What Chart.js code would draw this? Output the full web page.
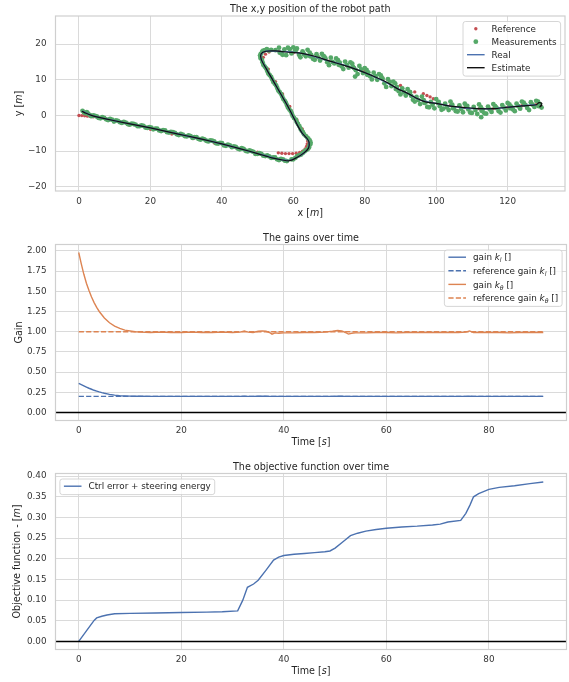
<!DOCTYPE html>
<html>
<head>
<meta charset="utf-8">
<script src="https://cdn.jsdelivr.net/npm/chart.js@4.4.1/dist/chart.umd.min.js"></script>
<style>
  html, body { margin: 0; padding: 0; background: #fff; }
  body { width: 569px; height: 682px; position: relative; overflow: hidden; }
  canvas { position: absolute; left: 0; }
</style>
</head>
<body>
<canvas id="pathChart" width="569" height="225" style="top:0px"></canvas>
<canvas id="gainChart" width="569" height="228" style="top:225px"></canvas>
<canvas id="objChart" width="569" height="229" style="top:453px"></canvas>
<script>
// ---- robot path (x, y in m) ----
var refX = [0, 0.8, 1.6, 2.4, 3.2, 4.0, 8, 14, 20, 26, 32, 38, 44, 50, 55.8, 56.8, 57.8, 58.8, 59.8, 60.8,
            61.8, 62.6, 63.3, 63.7, 63.9, 64.0, 63.5, 62.5, 61, 59, 57, 55, 53, 51.6, 52.2, 53.2, 56, 60, 65, 70,
            75, 80, 85, 90, 94, 96.4, 97.4, 98.3, 99.2, 100.5, 104, 108, 112, 116, 120, 124, 128];
var refY = [0, -0.05, -0.1, -0.2, -0.3, -0.4, -1.3, -2.6, -3.9, -5.2, -6.5, -7.8, -9.1, -10.3, -10.5, -10.6, -10.7, -10.7, -10.7, -10.6,
            -10.4, -10.0, -9.4, -8.7, -8.0, -7.2, -5.6, -3.8, -1.2, 2.5, 6, 9.5, 13, 16.3, 17.2, 17.8, 18, 17.6, 16.6, 15.2,
            13.9, 12.5, 10.5, 8.4, 6.6, 6.1, 5.6, 5.2, 4.7, 3.8, 2.8, 2.2, 1.9, 1.9, 2.3, 2.7, 3.0];

// measurements, lower straight leg
var measLowX = [1, 1.4, 1.8, 2.2, 2.6, 3.05, 3.5, 4.0, 4.5, 5.0, 5.5, 6.0, 6.5, 7.05, 7.6, 8.15, 8.7, 9.25, 9.8, 10.35,
                10.9, 11.45, 12, 12.55, 13.1, 13.65, 14.2, 14.75, 15.3, 15.85, 16.4, 16.95, 17.5, 18.05, 18.6, 19.15, 19.7, 20.25, 20.8, 21.35,
                21.9, 22.45, 23, 23.55, 24.1, 24.65, 25.2, 25.75, 26.3, 26.85, 27.4, 27.95, 28.5, 29.05, 29.6, 30.15, 30.7, 31.25, 31.8, 32.35,
                32.9, 33.45, 34, 34.55, 35.1, 35.65, 36.2, 36.75, 37.3, 37.85, 38.4, 38.95, 39.5, 40.05, 40.6, 41.15, 41.7, 42.25, 42.8, 43.35,
                43.9, 44.45, 45, 45.55, 46.1, 46.65, 47.2, 47.75, 48.3, 48.85, 49.4, 49.95, 50.5, 51.05, 51.6, 52.15, 52.7, 53.25, 53.8, 54.35,
                54.9, 55.45, 56, 56.55, 57.1, 57.65, 58.2];
var measLowY = [1.3, 0.8, 0.6, 0.9, 0.5, 0.1, -0.2, 0.0, -0.1, -0.3, -0.7, -0.8, -0.5, -0.7, -1.1, -1.3, -1.0, -1.2, -1.7, -1.4,
                -1.5, -1.9, -2.1, -1.8, -2.0, -2.4, -2.6, -2.3, -2.4, -2.6, -3.0, -3.0, -2.8, -2.9, -3.4, -3.5, -3.3, -3.4, -3.9, -3.7,
                -3.7, -4.2, -4.4, -4.1, -4.2, -4.7, -4.8, -4.6, -4.7, -4.9, -5.3, -5.5, -5.2, -5.4, -5.8, -5.9, -5.6, -5.8, -6.3, -6.1,
                -6.1, -6.6, -6.8, -6.5, -6.7, -7.1, -7.3, -7.0, -7.1, -7.3, -7.8, -7.9, -7.7, -7.8, -8.4, -8.5, -8.2, -8.4, -8.9, -8.7,
                -8.8, -9.3, -9.5, -9.2, -9.4, -9.9, -10.1, -9.8, -10.0, -10.2, -10.8, -10.8, -10.6, -10.8, -11.3, -11.4, -11.2, -11.5, -11.9, -11.8,
                -11.8, -12.3, -12.5, -12.2, -12.3, -12.7, -12.8];

// measurements, corner and climbing leg
var measUpX = [59.5, 60.0, 60.6, 61.1, 61.6, 62.1, 62.6, 63.1, 63.5, 64.0, 64.4, 64.5, 64.8, 64.8, 64.6, 64.2, 63.9, 63.5, 63.0, 62.7,
               62.3, 62.0, 61.7, 61.3, 61.0, 60.7, 60.2, 59.8, 59.6, 59.3, 58.9, 58.5, 58.2, 57.9, 57.6, 57.2, 56.9, 56.6, 56.2, 55.8,
               55.5, 55.2, 54.8, 54.4, 54.1, 53.8, 53.4, 53.0, 52.7, 52.4, 52.0, 51.6, 51.4, 51.2, 50.8, 50.7, 50.9, 51.3, 51.6, 52.1,
               52.6, 53.2, 53.8];
var measUpY = [-12.3, -12.3, -11.9, -11.4, -11.2, -11.0, -10.6, -10.1, -9.8, -9.5, -9.0, -8.4, -8.0, -7.5, -7.0, -6.5, -6.2, -5.8, -5.3, -4.7,
               -4.2, -3.7, -3.0, -2.4, -1.9, -1.2, -0.7, -0.1, 0.5, 1.2, 1.7, 2.2, 2.9, 3.6, 4.1, 4.6, 5.3, 6.0, 6.5, 7.0,
               7.7, 8.4, 8.9, 9.4, 10.1, 10.8, 11.3, 11.8, 12.5, 13.2, 13.7, 14.2, 14.9, 15.6, 16.1, 16.8, 17.3, 17.9, 18.2, 18.3,
               18.6, 18.2, 18.4];

// measurements, upper noisy leg
var measTopX = [55, 56.2, 57.5, 58.5, 59.5, 60.5, 61.6, 62.6, 63.5, 64.6, 65.5, 66.5, 67.5, 68.5, 69.5, 70.5, 71.5, 72.5, 73.5, 74.5,
                75.5, 76.5, 77.5, 78.5, 79.5, 80.5, 81.5, 82.5, 83.5, 84.5, 85.5, 86.5, 87.5, 88.5, 89.5, 90.5, 91.5, 92.5, 93.5, 94.5,
                95.5, 96.5, 97.5, 98.5, 99.5, 100.5, 101.5, 102.5, 103.5, 104.5, 105.5, 106.5, 107.5, 108.5, 109.5, 110.5, 111.5, 112.5, 113.5, 114.5,
                115.5, 116.5, 117.5, 118.5, 119.5, 120.5, 121.5, 122.5, 123.5, 124.5, 125.5, 126.5, 127.5, 128.5, 129.5,
                57, 59, 61, 63, 65, 67, 69, 71, 73, 75, 77, 77.3, 79, 81, 83, 85, 87, 89, 91, 93,
                95, 97, 99, 101, 103, 105, 107, 109, 111, 112.6, 113, 115, 117, 119, 121, 123, 125, 127, 129,
                56, 58, 60, 62, 64, 66, 68, 70, 72, 74, 76, 78, 80, 82, 84, 86, 88, 90, 92, 94,
                96, 98, 100, 102, 104, 106, 108, 110, 112, 114, 116, 118, 120, 122, 124, 126, 128,
                56.7, 60.7, 64.7, 68.7, 72.7, 76.7, 80.7, 84.7, 88.7, 92.7, 96.7, 100.7, 104.7, 108.7, 112.7, 116.7, 120.7, 124.7, 128.7];
var measTopY = [18.3, 17.6, 18.5, 19.0, 17.4, 18.2, 17.0, 18.0, 16.6, 17.6, 15.9, 17.2, 15.4, 16.6, 14.9, 16.2, 14.6, 15.5, 13.8, 15.1,
                13.4, 14.5, 12.7, 13.9, 11.9, 12.8, 11.0, 12.0, 10.0, 11.2, 9.0, 10.2, 8.2, 9.0, 6.8, 7.6, 5.6, 6.6, 4.4, 5.2,
                3.2, 4.3, 2.4, 3.8, 2.0, 3.5, 1.6, 3.3, 1.5, 3.0, 1.2, 2.8, 0.9, 2.6, 0.8, 2.4, 0.4, 2.3, 0.6, 2.5,
                1.0, 2.6, 1.2, 2.9, 1.4, 3.1, 1.7, 3.3, 1.9, 3.6, 2.1, 3.7, 2.4, 3.9, 2.2,
                17.0, 18.6, 18.8, 17.2, 17.0, 16.3, 16.0, 15.0, 14.8, 14.2, 13.3, 10.9, 12.9, 12.1, 11.0, 10.3, 9.4, 8.0, 6.5, 5.5,
                4.3, 3.6, 3.0, 2.6, 2.3, 2.1, 1.8, 1.7, 1.5, -0.5, 1.6, 1.7, 2.0, 2.2, 2.5, 2.6, 2.9, 3.0, 3.2,
                19.0, 16.9, 19.1, 16.3, 18.4, 15.6, 17.3, 14.1, 16.0, 13.0, 14.9, 11.6, 13.3, 10.1, 11.6, 8.0, 9.5, 5.9, 7.4, 3.9,
                5.3, 2.3, 4.6, 1.9, 3.9, 1.1, 3.3, 0.7, 3.1, 0.5, 3.2, 0.8, 3.5, 1.2, 3.9, 1.5, 4.1,
                17.4, 18.3, 16.6, 16.4, 14.2, 13.6, 11.4, 10.6, 7.4, 6.5, 3.5, 3.8, 2.0, 2.7, 1.3, 2.3, 2.0, 3.1, 2.6];

var realX = [0.8, 2.0, 3.5, 5, 10, 15, 20, 25, 30, 35, 40, 45, 50, 54, 57, 59, 61, 63, 64.3, 64.4,
             63.8, 62.5, 61.3, 60.3, 58.5, 56.5, 54.5, 52.5, 51.0, 51.0, 52.3, 55, 58, 62, 66, 70, 74, 78, 82, 86,
             89, 92, 95, 97, 100, 104, 108, 112, 116, 120, 124, 128];
var realY = [1.2, 0.7, 0.0, -0.4, -1.5, -2.5, -3.5, -4.6, -5.7, -6.8, -8.0, -9.3, -10.7, -11.8, -12.5, -12.6, -11.8, -10.5, -9.0, -7.5,
             -6.5, -5.0, -3.0, -1.0, 2.5, 6.0, 9.5, 13.0, 15.8, 17.2, 18.0, 18.0, 17.9, 17.5, 16.5, 15.3, 14.2, 12.8, 11.2, 9.3,
             7.6, 6.2, 4.6, 3.9, 3.4, 2.6, 2.1, 1.9, 1.9, 2.3, 2.7, 3.0];

var estX = [0.8, 2.0, 3.5, 5, 10, 15, 20, 25, 30, 35, 40, 45, 50, 54, 57, 59, 61, 63, 64.3, 64.4,
            63.8, 62.5, 61.3, 60.3, 58.5, 56.5, 54.5, 52.5, 51.0, 51.0, 52.3, 55, 58, 62, 66, 70, 74, 78, 82, 86,
            89, 92, 95, 97, 100, 104, 108, 112, 116, 120, 124, 128, 128.8, 129.6, 129.0, 129.7];
var estY = [1.2, 0.6, 0.0, -0.4, -1.5, -2.5, -3.5, -4.6, -5.7, -6.8, -8.0, -9.3, -10.7, -11.9, -12.5, -12.7, -11.8, -10.5, -9.1, -7.5,
            -6.4, -5.0, -3.0, -1.0, 2.5, 6.0, 9.5, 13.0, 15.8, 17.3, 18.0, 18.1, 17.8, 17.5, 16.6, 15.3, 14.1, 12.8, 11.2, 9.4,
            7.6, 6.2, 4.6, 3.8, 3.4, 2.6, 2.2, 1.9, 1.9, 2.3, 2.7, 3.0, 3.6, 3.3, 2.4, 2.9];

var pathXTicks = [0, 20, 40, 60, 80, 100, 120];
var pathYTicks = [-20, -10, 0, 10, 20];

// ---- gains over time ----
var gainTime = [0, 0.5, 1, 1.5, 2, 2.5, 3, 3.5, 4, 4.5, 5, 6, 7, 8, 9, 10, 11, 12, 14, 16,
                18, 20, 22, 24, 26, 28, 30, 31.5, 32.3, 33, 34, 35, 35.8, 36.5, 37.2, 37.7, 38.3, 39, 40, 42,
                44, 46, 48, 49.5, 50.5, 51.3, 52, 52.6, 53.2, 54, 56, 58, 60, 62, 64, 66, 68, 70, 72, 74,
                75.5, 76.2, 77, 78, 80, 82, 84, 86, 88, 90.6];
var gainKl = [0.36, 0.345, 0.33, 0.315, 0.30, 0.288, 0.275, 0.265, 0.255, 0.246, 0.238, 0.225, 0.215, 0.208, 0.205, 0.203, 0.202, 0.201, 0.2, 0.2,
              0.2, 0.2, 0.2, 0.2, 0.2, 0.2, 0.2, 0.2, 0.201, 0.2, 0.2, 0.201, 0.202, 0.201, 0.2, 0.199, 0.2, 0.2, 0.2, 0.2,
              0.2, 0.2, 0.2, 0.2, 0.201, 0.202, 0.2, 0.199, 0.2, 0.2, 0.2, 0.2, 0.2, 0.2, 0.2, 0.2, 0.2, 0.2, 0.2, 0.2,
              0.2, 0.201, 0.2, 0.2, 0.2, 0.2, 0.2, 0.2, 0.2, 0.2];
var gainKtheta = [1.98, 1.84, 1.71, 1.60, 1.51, 1.43, 1.36, 1.30, 1.25, 1.21, 1.17, 1.11, 1.07, 1.04, 1.02, 1.01, 1.0, 0.995, 0.99, 0.995,
                  0.99, 0.99, 0.995, 0.99, 0.99, 0.995, 0.99, 0.995, 1.01, 0.995, 0.99, 1.005, 1.01, 1.005, 0.99, 0.97, 0.985, 0.98, 0.985, 0.985,
                  0.99, 0.99, 0.995, 1.005, 1.015, 1.01, 0.99, 0.97, 0.98, 0.985, 0.985, 0.99, 0.99, 0.985, 0.99, 0.99, 0.99, 0.99, 0.99, 0.99,
                  0.995, 1.01, 0.99, 0.99, 0.99, 0.99, 0.985, 0.99, 0.99, 0.99];
var refGainTime = [0, 90.6];
var refGainKl = [0.2, 0.2];
var refGainKtheta = [1.0, 1.0];
var timeTicks = [0, 20, 40, 60, 80];
var gainYTicks = [0, 0.25, 0.5, 0.75, 1.0, 1.25, 1.5, 1.75, 2.0];

// ---- objective function ----
var objTime = [0, 1, 2, 3, 3.5, 4.5, 5.5, 7, 10, 15, 20, 25, 28, 31, 32, 32.9, 34.1, 35, 36.5, 38,
               39, 40, 42, 44, 46, 48, 49, 50, 51.6, 53, 54.4, 56, 58, 60, 63, 66, 69, 70.5, 72, 74.5,
               75.5, 76.3, 77, 78, 80, 82, 85, 88, 90.6];
var objValue = [0, 0.017, 0.034, 0.051, 0.057, 0.061, 0.064, 0.067, 0.068, 0.069, 0.070, 0.071, 0.072, 0.074, 0.100, 0.131, 0.139, 0.148, 0.172, 0.197,
                0.204, 0.208, 0.211, 0.213, 0.215, 0.217, 0.219, 0.226, 0.242, 0.256, 0.262, 0.267, 0.271, 0.274, 0.277, 0.279, 0.282, 0.284, 0.289, 0.293,
                0.310, 0.330, 0.350, 0.358, 0.368, 0.373, 0.377, 0.382, 0.386];
var objYTicks = [0, 0.05, 0.1, 0.15, 0.2, 0.25, 0.3, 0.35, 0.4];

var BLUE = '#4c72b0', ORANGE = '#dd8452', GREEN = '#55a868', RED = '#c44e52';
var GRID = '#dadada', SPINE = '#cfcfcf', TEXT = '#262626', TICK = '#363636';
var FONT = '"DejaVu Sans", "Liberation Sans", sans-serif';
Chart.defaults.font.family = FONT;

function xy(xs, ys) {
    return xs.map(function (x, i) { return { x: x, y: ys[i] }; });
}

// text with italic / subscript pieces, like matplotlib mathtext
function partFont(kind, size) {
    return (kind ? 'italic ' : '') + (kind === 'sub' ? size * 0.7 : size) + 'px ' + FONT;
}
function richWidth(ctx, parts, size) {
    var w = 0;
    parts.forEach(function (p) { ctx.font = partFont(p[1], size); w += ctx.measureText(p[0]).width; });
    return w;
}
function richText(ctx, parts, x, y, size, align) {
    var cx = align === 'center' ? x - richWidth(ctx, parts, size) / 2 : x;
    ctx.textAlign = 'left';
    ctx.textBaseline = 'alphabetic';
    parts.forEach(function (p) {
        ctx.font = partFont(p[1], size);
        ctx.fillText(p[0], cx, y + size * 0.36 + (p[1] === 'sub' ? size * 0.22 : 0));
        cx += ctx.measureText(p[0]).width;
    });
}
function roundRect(ctx, x, y, w, h, r) {
    ctx.beginPath();
    ctx.moveTo(x + r, y);
    ctx.arcTo(x + w, y, x + w, y + h, r);
    ctx.arcTo(x + w, y + h, x, y + h, r);
    ctx.arcTo(x, y + h, x, y, r);
    ctx.arcTo(x, y, x + w, y, r);
    ctx.closePath();
}

function drawLegend(ctx, area, lg) {
    var fs = 8.8, pad = 3.5, hl = 17.6, hp = 7;
    var tw = 0;
    lg.items.forEach(function (it) { tw = Math.max(tw, richWidth(ctx, it.label, fs)); });
    var w = pad + hl + hp + tw + pad + 1;
    var h = 7.2 + (lg.items.length - 1) * lg.pitch + 8.4;
    var left = lg.loc === 'left' ? area.left + 4.4 : area.right - 4.4 - w;
    var top = area.top + 5.5;
    roundRect(ctx, left, top, w, h, 2.5);
    ctx.fillStyle = 'rgba(255,255,255,0.8)';
    ctx.fill();
    ctx.strokeStyle = '#cccccc';
    ctx.lineWidth = 0.8;
    ctx.stroke();
    lg.items.forEach(function (it, i) {
        var y = top + 7.2 + i * lg.pitch;
        var hx = left + pad + 0.5;
        ctx.strokeStyle = it.color;
        ctx.fillStyle = it.color;
        if (it.kind === 'dot') {
            ctx.beginPath();
            ctx.arc(hx + hl / 2, y, it.r, 0, 2 * Math.PI);
            ctx.fill();
        } else {
            ctx.lineWidth = 1.4;
            ctx.setLineDash(it.kind === 'dash' ? [5.2, 2.2] : []);
            ctx.beginPath();
            ctx.moveTo(hx, y);
            ctx.lineTo(hx + hl, y);
            ctx.stroke();
            ctx.setLineDash([]);
        }
        ctx.fillStyle = TEXT;
        richText(ctx, it.label, hx + hl + hp, y, fs, 'left');
    });
}

// title, axis labels, frame, zero line and legend drawn like the seaborn figure
function decor(d) {
    return {
        id: 'decor',
        afterDatasetsDraw: function (chart) {
            var ctx = chart.ctx, a = chart.chartArea;
            ctx.save();
            if (d.zeroLine) {
                var y0 = chart.scales.y.getPixelForValue(0);
                ctx.strokeStyle = '#000';
                ctx.lineWidth = 1.5;
                ctx.beginPath();
                ctx.moveTo(a.left, y0);
                ctx.lineTo(a.right, y0);
                ctx.stroke();
            }
            ctx.strokeStyle = SPINE;
            ctx.lineWidth = 1.2;
            ctx.strokeRect(a.left, a.top, a.right - a.left, a.bottom - a.top);
            ctx.restore();
        },
        afterDraw: function (chart) {
            var ctx = chart.ctx, a = chart.chartArea;
            var cx = (a.left + a.right) / 2;
            ctx.save();
            ctx.fillStyle = TEXT;
            richText(ctx, [[d.title]], cx, a.top - 7, 9.6, 'center');
            richText(ctx, d.xLabel, cx, a.bottom + 21.5, 9.6, 'center');
            ctx.save();
            ctx.translate(d.yLabelX, (a.top + a.bottom) / 2);
            ctx.rotate(-Math.PI / 2);
            richText(ctx, d.yLabel, 0, 0, 9.6, 'center');
            ctx.restore();
            drawLegend(ctx, a, d.legend);
            ctx.restore();
        }
    };
}

function makeChart(id, p) {
    var canvas = document.getElementById(id);
    return new Chart(canvas.getContext('2d'), {
        type: 'scatter',
        data: { datasets: p.datasets },
        options: {
            responsive: false,
            animation: false,
            events: [],
            layout: { padding: { top: p.plotTop, left: 0, right: 2.5, bottom: 0 } },
            plugins: { legend: { display: false }, tooltip: { enabled: false } },
            scales: {
                x: {
                    type: 'linear', min: p.xRange[0], max: p.xRange[1],
                    afterBuildTicks: function (s) { s.ticks = p.xTicks.map(function (v) { return { value: v }; }); },
                    afterFit: function (s) { s.height = canvas.height - p.plotBottom; },
                    grid: { color: GRID, lineWidth: 1, drawTicks: false },
                    border: { display: false },
                    ticks: { padding: 5, color: TICK, font: { size: 8.8 }, maxRotation: 0, autoSkip: false,
                             callback: function (v) { return String(v); } }
                },
                y: {
                    type: 'linear', min: p.yRange[0], max: p.yRange[1],
                    afterBuildTicks: function (s) { s.ticks = p.yTicks.map(function (v) { return { value: v }; }); },
                    afterFit: function (s) { s.width = 55.5; },
                    grid: { color: GRID, lineWidth: 1, drawTicks: false },
                    border: { display: false },
                    ticks: { padding: 9, color: TICK, font: { size: 8.8 }, autoSkip: false, callback: p.yFmt }
                }
            }
        },
        plugins: [decor(p.decor)]
    });
}

function lineSet(xs, ys, color, width, dash, order) {
    return { data: xy(xs, ys), showLine: true, borderColor: color, borderWidth: width, borderDash: dash || [],
             pointRadius: 0, tension: 0, order: order };
}

var measPoints = xy(measLowX, measLowY).concat(xy(measUpX, measUpY), xy(measTopX, measTopY));

makeChart('pathChart', {
    plotTop: 16, plotBottom: 191,
    xRange: [-6.57, 136.06], yRange: [-21.2, 27.9],
    xTicks: pathXTicks, yTicks: pathYTicks,
    yFmt: function (v) { return String(v).replace('-', '\u2212'); },
    datasets: [
        { data: xy(refX, refY), pointRadius: 1.7, pointBorderWidth: 0, pointBackgroundColor: RED, order: 4 },
        { data: measPoints, pointRadius: 2.4, pointBorderWidth: 0, pointBackgroundColor: GREEN, order: 3 },
        Object.assign(lineSet(realX, realY, BLUE, 1.4, null, 2), { tension: 0.3 }),
        Object.assign(lineSet(estX, estY, '#111111', 1.2, null, 1), { tension: 0.3 })
    ],
    decor: {
        title: 'The x,y position of the robot path',
        xLabel: [['x ['], ['m', 'i'], [']']],
        yLabel: [['y ['], ['m', 'i'], [']']],
        yLabelX: 19,
        legend: { loc: 'right', pitch: 13, items: [
            { kind: 'dot', r: 1.7, color: RED, label: [['Reference']] },
            { kind: 'dot', r: 2.4, color: GREEN, label: [['Measurements']] },
            { kind: 'line', color: BLUE, label: [['Real']] },
            { kind: 'line', color: '#111111', label: [['Estimate']] }
        ] }
    }
});

makeChart('gainChart', {
    plotTop: 19.5, plotBottom: 195.5,
    xRange: [-4.53, 95.13], yRange: [-0.099, 2.079],
    xTicks: timeTicks, yTicks: gainYTicks,
    yFmt: function (v) { return v.toFixed(2); },
    datasets: [
        lineSet(gainTime, gainKl, BLUE, 1.4, null, 4),
        lineSet(refGainTime, refGainKl, BLUE, 1.4, [5.2, 2.2], 3),
        lineSet(gainTime, gainKtheta, ORANGE, 1.4, null, 2),
        lineSet(refGainTime, refGainKtheta, ORANGE, 1.4, [5.2, 2.2], 1)
    ],
    decor: {
        title: 'The gains over time',
        xLabel: [['Time ['], ['s', 'i'], [']']],
        yLabel: [['Gain']],
        yLabelX: 19,
        zeroLine: true,
        legend: { loc: 'right', pitch: 13.6, items: [
            { kind: 'line', color: BLUE, label: [['gain '], ['k', 'i'], ['l', 'sub'], [' []']] },
            { kind: 'dash', color: BLUE, label: [['reference gain '], ['k', 'i'], ['l', 'sub'], [' []']] },
            { kind: 'line', color: ORANGE, label: [['gain '], ['k', 'i'], ['\u03b8', 'sub'], [' []']] },
            { kind: 'dash', color: ORANGE, label: [['reference gain '], ['k', 'i'], ['\u03b8', 'sub'], [' []']] }
        ] }
    }
});

makeChart('objChart', {
    plotTop: 20.5, plotBottom: 196.5,
    xRange: [-4.53, 95.13], yRange: [-0.0195, 0.4065],
    xTicks: timeTicks, yTicks: objYTicks,
    yFmt: function (v) { return v.toFixed(2); },
    datasets: [
        lineSet(objTime, objValue, BLUE, 1.4, null, 1)
    ],
    decor: {
        title: 'The objective function over time',
        xLabel: [['Time ['], ['s', 'i'], [']']],
        yLabel: [['Objective function - ['], ['m', 'i'], [']']],
        yLabelX: 16.5,
        zeroLine: true,
        legend: { loc: 'left', pitch: 13, items: [
            { kind: 'line', color: BLUE, label: [['Ctrl error + steering energy']] }
        ] }
    }
});
</script>
</body>
</html>
